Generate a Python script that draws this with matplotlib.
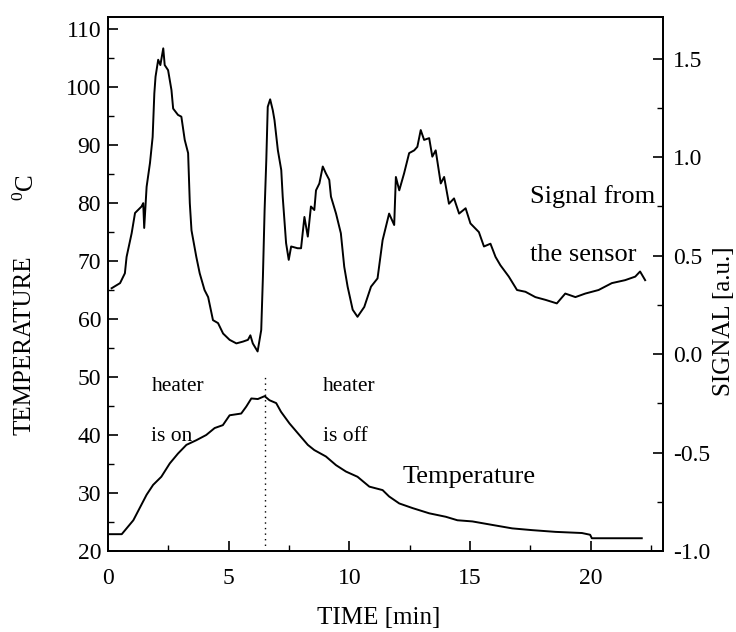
import matplotlib
matplotlib.use("Agg")
import matplotlib.pyplot as plt
from matplotlib.ticker import MultipleLocator

plt.rcParams['font.family'] = ['Liberation Serif', 'DejaVu Serif']
plt.rcParams['mathtext.fontset'] = 'custom'
plt.rcParams['mathtext.rm'] = 'Liberation Serif'

# sensor signal (right axis, a.u.)
sig_time = [0.15, 0.5, 0.7, 0.77, 0.98, 1.12, 1.39, 1.46, 1.5, 1.6, 1.74, 1.85,
            1.92, 1.97, 2.08, 2.17, 2.29, 2.35, 2.49, 2.63, 2.7, 2.9, 3.04, 3.18,
            3.32, 3.39, 3.46, 3.66, 3.8, 4.0, 4.15, 4.35, 4.56, 4.77, 5.04, 5.32,
            5.59, 5.8, 5.9, 6.0, 6.2, 6.35, 6.42, 6.49, 6.56, 6.62, 6.72, 6.83,
            6.9, 7.04, 7.18, 7.24, 7.38, 7.49, 7.59, 7.86, 8.0, 8.14, 8.28, 8.41,
            8.55, 8.62, 8.76, 8.9, 9.03, 9.17, 9.24, 9.45, 9.65, 9.79, 9.93, 10.14,
            10.34, 10.62, 10.9, 11.17, 11.38, 11.65, 11.86, 11.93, 12.07, 12.27,
            12.48, 12.69, 12.82, 12.96, 13.1, 13.31, 13.44, 13.58, 13.79, 13.93,
            14.13, 14.34, 14.55, 14.82, 15.02, 15.37, 15.58, 15.85, 16.06, 16.26,
            16.61, 16.95, 17.3, 17.71, 18.13, 18.6, 18.95, 19.37, 19.78, 20.33,
            20.88, 21.43, 21.85, 22.05, 22.26]
signal = [0.334, 0.360, 0.410, 0.493, 0.613, 0.716, 0.749, 0.766, 0.640, 0.849,
          0.970, 1.102, 1.323, 1.408, 1.494, 1.467, 1.552, 1.467, 1.441, 1.340,
          1.246, 1.214, 1.205, 1.087, 1.020, 0.766, 0.628, 0.493, 0.410, 0.325,
          0.289, 0.172, 0.157, 0.104, 0.072, 0.054, 0.063, 0.072, 0.095, 0.054,
          0.013, 0.122, 0.393, 0.731, 0.984, 1.255, 1.293, 1.237, 1.187, 1.034,
          0.934, 0.799, 0.563, 0.478, 0.546, 0.537, 0.537, 0.696, 0.596, 0.749,
          0.731, 0.831, 0.866, 0.952, 0.917, 0.884, 0.799, 0.713, 0.613, 0.443,
          0.342, 0.225, 0.189, 0.239, 0.342, 0.384, 0.578, 0.713, 0.655, 0.899,
          0.831, 0.917, 1.020, 1.034, 1.052, 1.137, 1.087, 1.096, 1.002, 1.034,
          0.866, 0.899, 0.763, 0.790, 0.713, 0.740, 0.663, 0.619, 0.546, 0.560,
          0.493, 0.451, 0.393, 0.325, 0.316, 0.289, 0.275, 0.257, 0.307, 0.289,
          0.307, 0.325, 0.360, 0.375, 0.393, 0.419, 0.375]

# temperature (left axis, deg C)
temp_time = [0.0, 0.57, 1.05, 1.6, 1.87, 2.21, 2.56, 2.9, 3.25, 3.66, 4.07, 4.42,
             4.76, 5.04, 5.52, 5.73, 5.94, 6.21, 6.49, 6.69, 6.97, 7.17, 7.52,
             7.93, 8.28, 8.55, 9.03, 9.45, 9.86, 10.34, 10.83, 11.38, 11.65, 12.07,
             12.62, 13.31, 14.0, 14.48, 15.1, 15.92, 16.75, 17.57, 18.54, 19.64,
             19.98, 20.05, 20.88, 22.12]
temperature = [22.9, 22.9, 25.3, 29.7, 31.4, 32.8, 35.1, 36.8, 38.3, 39.1, 40.0,
               41.2, 41.7, 43.4, 43.7, 44.9, 46.3, 46.2, 46.7, 46.0, 45.5, 44.0,
               42.0, 40.0, 38.3, 37.4, 36.3, 34.8, 33.7, 32.8, 31.1, 30.5, 29.4,
               28.2, 27.4, 26.5, 25.9, 25.3, 25.1, 24.5, 23.9, 23.6, 23.3, 23.1,
               22.8, 22.2, 22.2, 22.2]

heater_switch = 6.5

fig = plt.figure(figsize=(7.36, 6.32), dpi=100)
ax = fig.add_axes([108 / 736, 1 - 551 / 632, 555 / 736, 534 / 632])
ax2 = ax.twinx()

ax.plot(temp_time, temperature, color='black', lw=1.4)
ax2.plot(sig_time, signal, color='black', lw=1.4)
ax.vlines(heater_switch, 20, 50, colors='black', linestyles=(0, (1, 3)), lw=1.0)

ax.set_xlim(0, 23.0)
ax.set_ylim(20, 112.07)
ax2.set_ylim(-1.0, 1.711)

ax.xaxis.set_major_locator(MultipleLocator(5))
ax.xaxis.set_minor_locator(MultipleLocator(2.5))
ax.yaxis.set_major_locator(MultipleLocator(10))
ax.yaxis.set_minor_locator(MultipleLocator(5))
ax2.yaxis.set_major_locator(MultipleLocator(0.5))
ax2.yaxis.set_minor_locator(MultipleLocator(0.25))

ax.tick_params(axis='both', which='both', direction='in', labelsize=17,
               top=False, right=False)
ax.tick_params(axis='both', which='major', length=7, width=1.2)
ax.tick_params(axis='both', which='minor', length=4, width=1.0)
ax.tick_params(axis='x', pad=12)
ax.tick_params(axis='y', pad=5)
ax2.tick_params(axis='y', which='both', direction='in', labelsize=17, pad=7)
ax2.tick_params(axis='y', which='major', length=7, width=1.2)
ax2.tick_params(axis='y', which='minor', length=4, width=1.0)
ax2.yaxis.set_major_formatter(plt.FuncFormatter(lambda v, p: f"{v:.1f}"))

for a in (ax, ax2):
    for s in a.spines.values():
        s.set_linewidth(1.3)

ax.set_xlabel("TIME [min]", fontsize=18)
ax.xaxis.set_label_coords(0.488, -0.105)

fig.text(25 / 736, 1 - 345 / 632, "TEMPERATURE", rotation=90, fontsize=18,
         ha='center', va='center')
fig.text(26 / 736, 1 - 188 / 632, r"$^{0}$C", rotation=90, fontsize=18,
         ha='center', va='center')
fig.text(724 / 736, 1 - 321 / 632, "SIGNAL [a.u.]", rotation=90, fontsize=18,
         ha='center', va='center')

ax.text(1.8, 48.3, "heater", fontsize=15.5, va='center')
ax.text(1.8, 39.8, "is on", fontsize=15.5, va='center')
ax.text(8.9, 48.3, "heater", fontsize=15.5, va='center')
ax.text(8.9, 39.8, "is off", fontsize=15.5, va='center')
ax.text(12.19, 32.8, "Temperature", fontsize=19, va='center')
ax.text(17.5, 81.1, "Signal from", fontsize=19, va='center')
ax.text(17.5, 71.0, "the sensor", fontsize=19, va='center')

fig.savefig("out.png", dpi=100)
